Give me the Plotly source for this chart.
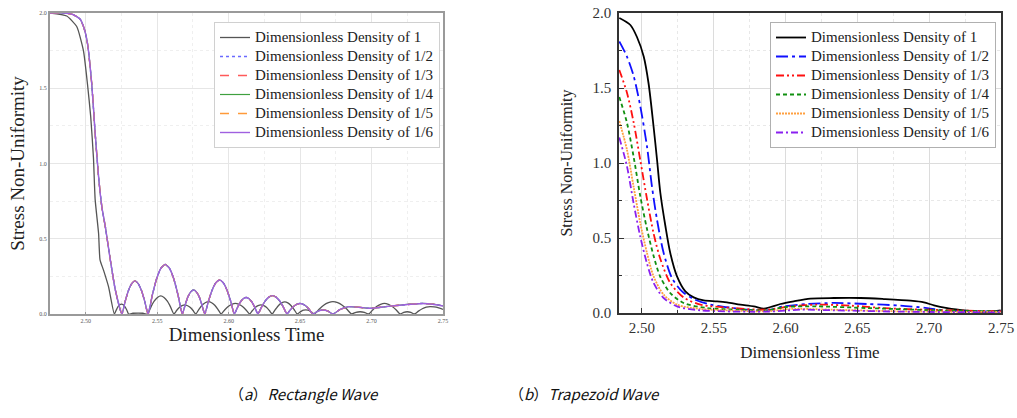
import plotly.graph_objects as go

# ---------------- (a) Rectangle wave ----------------
rect_x_d1 = [2.475, 2.4867, 2.4937, 2.4984, 2.5012, 2.5035, 2.5054, 2.5066, 2.509, 2.510, 2.5125, 2.516, 2.520,
             2.5213, 2.5225, 2.5238, 2.525, 2.5263, 2.5275, 2.5288, 2.530,
             2.533, 2.5367, 2.540, 2.5433,
             2.5456, 2.5479, 2.5502, 2.5525, 2.5548, 2.5571, 2.5594, 2.5617,
             2.5636, 2.5655, 2.5674, 2.5694, 2.5713, 2.5732, 2.5751, 2.577,
             2.5792, 2.5814, 2.5836, 2.5859, 2.5881, 2.5903, 2.5925, 2.5947,
             2.5972, 2.5997, 2.6022, 2.6047, 2.6072, 2.6097, 2.6122, 2.6147,
             2.6167, 2.6186, 2.6206, 2.6226, 2.6246, 2.6266, 2.6285, 2.6305,
             2.6327, 2.6349, 2.6371, 2.6393, 2.6414, 2.6436, 2.6458, 2.648,
             2.6495, 2.651, 2.6525, 2.654, 2.6555, 2.657, 2.6585, 2.660,
             2.6633, 2.6665, 2.6698, 2.673, 2.6763, 2.6795, 2.6828, 2.686,
             2.689, 2.692, 2.695, 2.698,
             2.7008, 2.7035, 2.7063, 2.709, 2.7118, 2.7145, 2.7173, 2.720,
             2.7225, 2.725, 2.7275, 2.730,
             2.7328, 2.7355, 2.7383, 2.741, 2.7438, 2.7465, 2.750]
rect_y_d1 = [2.0, 1.98, 1.91, 1.75, 1.53, 1.31, 1.04, 0.76, 0.535, 0.36, 0.29, 0.18, 0.0,
             0.025, 0.047, 0.061, 0.066, 0.061, 0.047, 0.025, 0.0,
             0.005, 0.006, 0.005, 0.0,
             0.046, 0.085, 0.110, 0.120, 0.110, 0.085, 0.046, 0.0,
             0.023, 0.043, 0.055, 0.060, 0.055, 0.043, 0.023, 0.0,
             0.031, 0.058, 0.075, 0.082, 0.075, 0.058, 0.031, 0.0,
             0.027, 0.050, 0.064, 0.070, 0.064, 0.050, 0.027, 0.0,
             0.023, 0.043, 0.055, 0.060, 0.055, 0.043, 0.023, 0.0,
             0.030, 0.057, 0.074, 0.080, 0.074, 0.057, 0.030, 0.0,
             0.010, 0.019, 0.025, 0.027, 0.025, 0.019, 0.010, 0.0,
             0.031, 0.058, 0.075, 0.082, 0.075, 0.058, 0.031, 0.0,
             0.011, 0.015, 0.011, 0.0,
             0.027, 0.050, 0.064, 0.070, 0.064, 0.050, 0.027, 0.0,
             0.011, 0.015, 0.011, 0.0,
             0.019, 0.035, 0.045, 0.049, 0.047, 0.042, 0.031]

rect_x_dn = [2.475, 2.485, 2.491, 2.496, 2.4988, 2.5012, 2.5042, 2.5066, 2.509, 2.5113, 2.5137, 2.5172, 2.5207, 2.5253,
             2.5276, 2.5299, 2.5322, 2.5345, 2.5367, 2.539, 2.5413, 2.5436,
             2.5466, 2.5496, 2.5526, 2.5556, 2.5586, 2.5616, 2.5646, 2.5676,
             2.5696, 2.5715, 2.5735, 2.5755, 2.5774, 2.5794, 2.5813, 2.5833,
             2.5859, 2.5885, 2.5911, 2.5937, 2.5962, 2.5988, 2.6014, 2.604,
             2.6061, 2.6081, 2.6102, 2.6123, 2.6143, 2.6164, 2.6184, 2.6205,
             2.623, 2.6256, 2.6281, 2.6307, 2.6332, 2.6357, 2.6383, 2.6408,
             2.6431, 2.6454, 2.6476, 2.6499, 2.6522, 2.6545, 2.6567, 2.659,
             2.6625, 2.666, 2.6695, 2.673,
             2.678, 2.684, 2.691, 2.698, 2.704, 2.710, 2.7215, 2.7356, 2.743, 2.750]
rect_y_dn = [2.0, 2.0, 1.99, 1.96, 1.90, 1.80, 1.53, 1.20, 0.91, 0.71, 0.58, 0.36, 0.16, 0.0,
             0.084, 0.156, 0.202, 0.220, 0.202, 0.156, 0.084, 0.0,
             0.125, 0.234, 0.304, 0.330, 0.304, 0.234, 0.125, 0.0,
             0.061, 0.114, 0.147, 0.160, 0.147, 0.114, 0.061, 0.0,
             0.086, 0.160, 0.208, 0.226, 0.208, 0.160, 0.086, 0.0,
             0.042, 0.078, 0.101, 0.110, 0.101, 0.078, 0.042, 0.0,
             0.046, 0.087, 0.112, 0.122, 0.112, 0.087, 0.046, 0.0,
             0.027, 0.050, 0.064, 0.070, 0.064, 0.050, 0.027, 0.0,
             0.019, 0.027, 0.019, 0.0,
             0.030, 0.049, 0.045, 0.038, 0.042, 0.049, 0.060, 0.070, 0.065, 0.053]

# ---------------- (b) Trapezoid wave ----------------
trap_x_d1 = [2.4842, 2.4919, 2.4965, 2.5012, 2.5046, 2.5081, 2.5105, 2.5128, 2.5163, 2.5197, 2.5244, 2.5302,
             2.536, 2.543, 2.5523, 2.5592, 2.5685, 2.5778, 2.5848, 2.5895, 2.5964, 2.6057, 2.6173, 2.6336,
             2.6522, 2.6684, 2.687, 2.6963, 2.7033, 2.7126, 2.7265, 2.7381, 2.7498]
trap_y_d1 = [1.967, 1.92, 1.84, 1.71, 1.53, 1.24, 1.02, 0.80, 0.58, 0.40, 0.244, 0.144,
             0.104, 0.084, 0.078, 0.071, 0.056, 0.044, 0.029, 0.040, 0.060, 0.078, 0.096, 0.100,
             0.100, 0.093, 0.082, 0.071, 0.051, 0.033, 0.016, 0.007, 0.018]

trap_x_d2 = [2.4842, 2.4895, 2.4942, 2.4988, 2.5035, 2.507, 2.5105, 2.5151, 2.5209, 2.5279, 2.536, 2.5476,
             2.5639, 2.5778, 2.587, 2.5987, 2.615, 2.6336, 2.6568, 2.68, 2.6986, 2.7126, 2.75]
trap_y_d2 = [1.81, 1.71, 1.58, 1.38, 1.11, 0.84, 0.62, 0.40, 0.233, 0.144, 0.093, 0.056,
             0.033, 0.018, 0.018, 0.044, 0.060, 0.067, 0.060, 0.049, 0.033, 0.016, 0.011]

trap_x_d3 = [2.4842, 2.4895, 2.4942, 2.4988, 2.5035, 2.5081, 2.5128, 2.5197, 2.529, 2.5407, 2.5639, 2.587,
             2.6034, 2.622, 2.6452, 2.6684, 2.6986, 2.75]
trap_y_d3 = [1.62, 1.47, 1.27, 1.02, 0.76, 0.53, 0.36, 0.20, 0.104, 0.056, 0.033, 0.022,
             0.044, 0.056, 0.049, 0.033, 0.022, 0.011]

trap_x_d4 = [2.4842, 2.4895, 2.4942, 2.4988, 2.5035, 2.5081, 2.5128, 2.5197, 2.529, 2.5453, 2.5685, 2.587,
             2.600, 2.622, 2.6568, 2.7033, 2.75]
trap_y_d4 = [1.44, 1.27, 1.04, 0.78, 0.56, 0.38, 0.24, 0.133, 0.067, 0.033, 0.022, 0.018,
             0.040, 0.044, 0.033, 0.018, 0.011]

trap_x_d5 = [2.4842, 2.4895, 2.4942, 2.4988, 2.5035, 2.5081, 2.5151, 2.5244, 2.5407, 2.5639, 2.587, 2.6034,
             2.6336, 2.68, 2.75]
trap_y_d5 = [1.28, 1.09, 0.84, 0.60, 0.40, 0.244, 0.122, 0.056, 0.027, 0.016, 0.011, 0.027,
             0.022, 0.011, 0.007]

trap_x_d6 = [2.4842, 2.4895, 2.4942, 2.4988, 2.5035, 2.5081, 2.5151, 2.5244, 2.5407, 2.587, 2.6104, 2.6336,
             2.68, 2.75]
trap_y_d6 = [1.17, 0.98, 0.73, 0.51, 0.33, 0.20, 0.10, 0.044, 0.018, 0.009, 0.022, 0.018,
             0.009, 0.004]

names = ["Dimensionless Density of 1", "Dimensionless Density of 1/2", "Dimensionless Density of 1/3",
         "Dimensionless Density of 1/4", "Dimensionless Density of 1/5", "Dimensionless Density of 1/6"]

fig = go.Figure()


def big(t):
    return '<span style="font-size:15px">' + t + '</span>'


# Left panel traces
left_styles = [
    ("#555555", "solid", 1.3),
    ("#6a6aff", "dot", 1.4),
    ("#ff5a5a", "dash", 1.3),
    ("#3fa03f", "solid", 1.2),
    ("#ff9a3a", "dash", 1.3),
    ("#a060e0", "solid", 1.4),
]
for i, (c, d, w) in enumerate(left_styles):
    if i == 0:
        xs, ys = rect_x_d1, rect_y_d1
    else:
        xs, ys = rect_x_dn, rect_y_dn
    fig.add_trace(go.Scatter(x=xs, y=ys, mode="lines", name=big(names[i]),
                             line=dict(color=c, dash=d, width=w, shape="spline", smoothing=0.5),
                             xaxis="x", yaxis="y", legend="legend"))

# Right panel traces
right_data = [(trap_x_d1, trap_y_d1), (trap_x_d2, trap_y_d2), (trap_x_d3, trap_y_d3),
              (trap_x_d4, trap_y_d4), (trap_x_d5, trap_y_d5), (trap_x_d6, trap_y_d6)]
right_styles = [
    ("#000000", "solid", 1.8),
    ("#1010ff", "12px,4px,3px,4px", 1.8),
    ("#ff1010", "8px,3px,2px,3px,2px,3px", 1.8),
    ("#109010", "4px,3px", 1.8),
    ("#ffa040", "2px,1px", 1.8),
    ("#8a20f0", "7px,3px,2px,3px", 1.8),
]
for i, ((xs, ys), (c, d, w)) in enumerate(zip(right_data, right_styles)):
    fig.add_trace(go.Scatter(x=xs, y=ys, mode="lines", name=big(names[i]),
                             line=dict(color=c, dash=d, width=w, shape="spline", smoothing=0.8),
                             xaxis="x2", yaxis="y2", legend="legend2"))

serif = "Liberation Serif, Times New Roman, serif"

fig.update_layout(
    width=1017, height=418,
    margin=dict(l=0, r=0, t=0, b=0, autoexpand=False),
    paper_bgcolor="white", plot_bgcolor="white",
    showlegend=True,
    font=dict(family=serif, color="#222222"),
    xaxis=dict(domain=[50/1017, 443/1017], range=[2.475, 2.75], anchor="y", automargin=False,
               tickvals=[2.50, 2.55, 2.60, 2.65, 2.70, 2.75], tickformat=".2f",
               tickfont=dict(size=6, color="#555555"),
               showgrid=True, gridcolor="#e6e6e6", gridwidth=1,
               minor=dict(showgrid=True, gridcolor="#efefef", griddash="dot", dtick=0.025),
               showline=True, linecolor="#9a9a9a", linewidth=2, mirror=True,
               ticks="inside", ticklen=2, tickcolor="#9a9a9a", zeroline=False,
               title=dict(text="Dimensionless Time", font=dict(size=19, color="#222222"), standoff=4)),
    yaxis=dict(domain=[104/418, 405/418], range=[0, 2.0], anchor="x", automargin=False,
               tickvals=[0, 0.5, 1.0, 1.5, 2.0], tickformat=".1f",
               tickfont=dict(size=6, color="#555555"),
               showgrid=True, gridcolor="#e6e6e6", gridwidth=1,
               minor=dict(showgrid=True, gridcolor="#efefef", griddash="dot", dtick=0.25),
               showline=True, linecolor="#9a9a9a", linewidth=2, mirror=True,
               ticks="", zeroline=False,
               title=dict(text="Stress Non-Uniformity", font=dict(size=19, color="#222222"), standoff=10)),
    xaxis2=dict(domain=[619/1017, 1001/1017], range=[2.484, 2.75], anchor="y2", automargin=False,
                tickvals=[2.50, 2.55, 2.60, 2.65, 2.70, 2.75], tickformat=".2f",
                tickfont=dict(size=15, color="#333333"),
                showgrid=True, gridcolor="#dcdcdc", gridwidth=1,
                minor=dict(showgrid=True, gridcolor="#e8e8e8", griddash="dot", dtick=0.025,
                           ticks="inside", ticklen=3, tickcolor="#333333"),
                showline=True, linecolor="#333333", linewidth=1.5, mirror=True,
                ticks="inside", ticklen=5, tickcolor="#333333", zeroline=False,
                title=dict(text="Dimensionless Time", font=dict(size=17, color="#222222"), standoff=11)),
    yaxis2=dict(domain=[105/418, 405/418], range=[0, 2.0], anchor="x2", automargin=False,
                tickvals=[0, 0.5, 1.0, 1.5, 2.0], tickformat=".1f",
                tickfont=dict(size=15, color="#333333"),
                showgrid=True, gridcolor="#dcdcdc", gridwidth=1,
                minor=dict(showgrid=True, gridcolor="#e8e8e8", griddash="dot", dtick=0.25,
                           ticks="inside", ticklen=3, tickcolor="#333333"),
                showline=True, linecolor="#333333", linewidth=1.5, mirror=True,
                ticks="inside", ticklen=5, tickcolor="#333333", zeroline=False,
                ticklabelstandoff=3,
                title=dict(text="Stress Non-Uniformity", font=dict(size=16, color="#222222"), standoff=16)),
    legend=dict(x=214/1017, y=1 - 22/418, xanchor="left", yanchor="top",
                bgcolor="white", bordercolor="#d0d0d0", borderwidth=1,
                font=dict(family=serif, size=12, color="#222222"),
                tracegroupgap=0, itemwidth=30),
    legend2=dict(x=770/1017, y=1 - 22/418, xanchor="left", yanchor="top",
                 bgcolor="white", bordercolor="#b0b0b0", borderwidth=1,
                 font=dict(family=serif, size=12, color="#222222"),
                 tracegroupgap=0, itemwidth=30),
    annotations=[
        dict(text="（<i>a</i>）<i>Rectangle Wave</i>", x=304/1017, y=1 - 393/418, xref="paper", yref="paper",
             showarrow=False, xanchor="center", yanchor="middle",
             font=dict(family="Noto Sans CJK SC, Noto Sans, sans-serif", size=15, color="#111111")),
        dict(text="（<i>b</i>）<i>Trapezoid Wave</i>", x=584/1017, y=1 - 393/418, xref="paper", yref="paper",
             showarrow=False, xanchor="center", yanchor="middle",
             font=dict(family="Noto Sans CJK SC, Noto Sans, sans-serif", size=15, color="#111111")),
    ],
)

fig.write_html("out.html")
